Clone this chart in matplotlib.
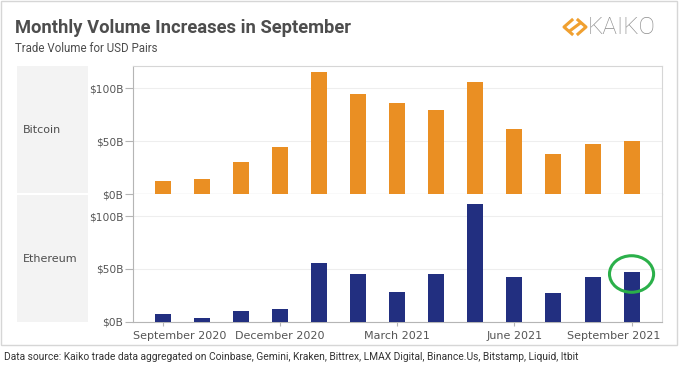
import matplotlib
matplotlib.use("Agg")
import matplotlib.pyplot as plt
import matplotlib.transforms as mtransforms
from matplotlib.patches import Ellipse, Rectangle
from matplotlib.lines import Line2D

# monthly trade volume for USD pairs, in $B (Sep 2020 .. Sep 2021)
months = ["Sep 2020", "Oct 2020", "Nov 2020", "Dec 2020", "Jan 2021", "Feb 2021",
          "Mar 2021", "Apr 2021", "May 2021", "Jun 2021", "Jul 2021", "Aug 2021", "Sep 2021"]
btc = [12.7, 14.0, 30.7, 44.3, 115.0, 94.3, 86.4, 79.4, 106.3, 61.4, 37.4, 47.4, 49.7]
eth = [7.0, 3.8, 9.8, 11.7, 56.0, 45.3, 28.3, 45.3, 111.3, 42.5, 27.4, 42.5, 47.2]
tick_idx = [0, 3, 6, 9, 12]
tick_labels = ["September 2020", "December 2020", "March 2021", "June 2021", "September 2021"]
ytick_vals = [0, 50, 100]
ytick_labels = ["$0B", "$50B", "$100B"]

ORANGE = "#ea8f23"
NAVY = "#222f80"
TXT = "#4d4d4d"
W, H = 680, 365

fig = plt.figure(figsize=(6.8, 3.65), dpi=100)
fig.patch.set_facecolor("white")


def fx(px):
    return px / W


def fy(py):
    return 1 - py / H


# outer frame
fig.add_artist(Rectangle((fx(1), fy(345)), fx(676), (344) / H, transform=fig.transFigure,
                         fill=False, edgecolor="#d6d6d6", lw=1))

# facet label boxes
for y0, y1, name in [(66, 193, "Bitcoin"), (195, 322, "Ethereum")]:
    fig.add_artist(Rectangle((fx(17), fy(y1)), fx(71), (y1 - y0) / H, transform=fig.transFigure,
                             facecolor="#f3f3f3", edgecolor="none"))
    fig.text(fx(23), fy((y0 + y1) / 2), name, fontsize=8, color=TXT, va="center", ha="left")

x = list(range(len(months)))
left, right = 133, 662
ax1 = fig.add_axes([fx(left), fy(194), fx(right - left), (194 - 66) / H])
ax2 = fig.add_axes([fx(left), fy(321.7), fx(right - left), (321.7 - 194) / H])

for ax, vals, col in [(ax1, btc, ORANGE), (ax2, eth, NAVY)]:
    ax.bar(x, vals, width=0.41, color=col, zorder=3)
    ax.set_xlim(-0.77, 12.78)
    ax.set_ylim(0, 121)
    ax.set_yticks(ytick_vals)
    ax.set_yticklabels(ytick_labels)
    ax.grid(axis="y", color="#eeeeee", lw=0.8, zorder=0)
    ax.tick_params(axis="y", length=6, color="#b5b5b5", labelsize=7.7, labelcolor="#555555", pad=1)
    for s in ["left", "bottom"]:
        ax.spines[s].set_color("#b5b5b5")
    ax.spines["right"].set_color("#d6d6d6")
    ax.spines["top"].set_color("#d6d6d6")

ax2.spines["top"].set_visible(False)
ax1.set_xticks([])
ax2.set_xticks(tick_idx)
ax2.set_xticklabels(tick_labels)
ax2.tick_params(axis="x", length=3, color="#b5b5b5", labelsize=8, labelcolor="#555555", pad=4)

labs = ax2.get_xticklabels()
labs[0].set_transform(labs[0].get_transform() + mtransforms.ScaledTranslation(17 / 100, 0, fig.dpi_scale_trans))
labs[-1].set_transform(labs[-1].get_transform() + mtransforms.ScaledTranslation(-18 / 100, 0, fig.dpi_scale_trans))

# highlight circle around latest Ethereum bar
ax2.add_patch(Ellipse((12, eth[12] - 2), width=1.13, height=34.6, fill=False,
                      edgecolor="#2bb04a", lw=2.2, zorder=5, clip_on=False))

# titles
fig.text(fx(15), fy(28), "Monthly Volume Increases in September",
         fontsize=13.2, fontweight="bold", color=TXT, va="center", family="Roboto")
fig.text(fx(15), fy(48), "Trade Volume for USD Pairs", fontsize=8.3, color=TXT, va="center",
         family="Roboto")

# logo
fig.text(fx(588), fy(27), "KAIKO", fontsize=17.5, color="#8c8c8c", va="center", ha="left",
         fontweight="light", family="Roboto")
for pts in [[(572, 20), (564, 27), (572, 34)], [(578, 34), (586, 27), (578, 20)], [(571, 30), (579, 24)]]:
    fig.add_artist(Line2D([fx(p[0]) for p in pts], [fy(p[1]) for p in pts],
                          transform=fig.transFigure, color="#f0a030", lw=2.2))

fig.text(fx(4), fy(357), "Data source: Kaiko trade data aggregated on Coinbase, Gemini, Kraken, Bittrex, "
         "LMAX Digital, Binance.Us, Bitstamp, Liquid, Itbit",
         fontsize=7.4, color="#333333", va="center", ha="left", family="Roboto")

fig.savefig("out.png", dpi=100, facecolor="white")
